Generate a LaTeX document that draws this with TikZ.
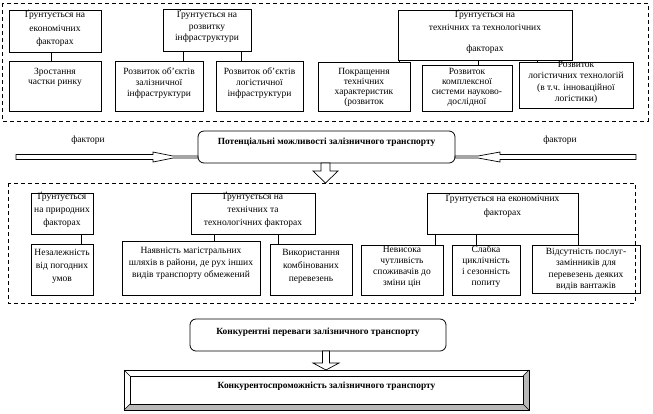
\documentclass[tikz,border=0pt]{standalone}
\usepackage{fontspec}
\setmainfont{Liberation Serif}
\usetikzlibrary{calc}
\newcommand{\lsp}[1]{\fontsize{9.5bp}{#1bp}\selectfont}
\newcommand{\frbox}[5]{\node[frame, minimum width={#4bp-#2bp}, minimum height={#5bp-#3bp}, anchor=north west] (#1) at (#2,#3) {};}
\newcommand{\rfbox}[5]{\node[rframe, minimum width={#4bp-#2bp}, minimum height={#5bp-#3bp}, anchor=north west] (#1) at (#2,#3) {};}
\begin{document}
\begin{tikzpicture}[x=1bp,y=-1bp,
  frame/.style={draw, line width=0.8bp, inner sep=0pt, outer sep=0pt},
  rframe/.style={frame, rounded corners=6bp},
  tx/.style={align=center, inner sep=0pt, outer sep=0pt},
  btx/.style={inner sep=0pt, font=\fontsize{9.4bp}{10bp}\selectfont\bfseries},
  dbox/.style={draw, line width=0.8bp, dash pattern=on 4bp off 3bp},
  barrow/.style={draw, fill=white, line width=0.7bp, line join=miter},
  conn/.style={draw, line width=0.8bp}]
\useasboundingbox (0,0) rectangle (653,413);
\fill[white] (0,0) rectangle (653,413);

% ---------- top dashed group ----------
\draw[dbox] (2,3) rectangle (648,121);

\frbox{A}{9}{10}{101}{52}
\node[tx, font=\lsp{13.5}] (At) at (55,28.5) {Ґрунтується на\\економічних\\факторах};
\frbox{B}{9}{61}{101}{111}
\node[tx, font=\lsp{10}] (Bt) at (55,77) {Зростання\\частки ринку};

\frbox{C}{163}{9}{251}{51}
\node[tx, font=\lsp{11.5}] (Ct) at (207,26.5) {Ґрунтується на\\розвитку\\інфраструктури};
\frbox{D}{115}{61}{203}{111}
\node[tx, font=\lsp{11}] (Dt) at (159,83) {Розвиток об’єктів\\залізничної\\інфраструктури};
\frbox{E}{216}{61}{303}{111}
\node[tx, font=\lsp{11}] (Et) at (259.5,83) {Розвиток об’єктів\\логістичної\\інфраструктури};

\frbox{F}{398}{10}{572}{60}
\node[tx, font=\lsp{13}] (Ft) at (485,32) {Ґрунтується на\\технічних та технологічних\\[8bp]факторах};
\frbox{G}{318}{62}{410}{111}
\node[tx, font=\lsp{10}] (Gt) at (364,87) {Покращення\\технічних\\характеристик\\(розвиток};
\frbox{H}{422}{65}{512}{111}
\node[tx, font=\lsp{10}] (Ht) at (467,87.5) {Розвиток\\комплексної\\системи науково-\\дослідної};
\frbox{I}{519}{62}{633}{108}
\node[tx, font=\lsp{11.5}] (It) at (576,82.5) {Розвиток\\логістичних технологій\\(в т.ч. інноваційної\\логістики)};

\coordinate (xa) at (51,0);
\coordinate (xc1) at (183,0);
\coordinate (xc2) at (241,0);
\coordinate (xf1) at (399,0);
\coordinate (xf2) at (478,0);
\coordinate (xf3) at (537,0);
\draw[conn] (xa |- A.south) -- (xa |- B.north);
\draw[conn] (xc1 |- C.south) -- (xc1 |- D.north);
\draw[conn] (xc2 |- C.south) -- (xc2 |- E.north);
\draw[conn] (xf1 |- F.south) -- ($(xf1 |- G.north)+(0,1)$);
\draw[conn] (xf2 |- F.south) -- (xf2 |- H.north);
\draw[conn] (xf3 |- F.south) -- ($(xf3 |- I.north)+(0,1)$);

% ---------- middle ----------
\rfbox{pot}{198}{131}{455}{163}
\node[btx] (pott) at (326.5,142) {Потенціальні можливості залізничного транспорту};
\node[tx, font=\lsp{10}] (fl) at (88,140) {фактори};
\node[tx, font=\lsp{10}] (fr) at (560,140) {фактори};
\draw[barrow] (16,154.5) -- (153,154.5) -- (153,152) -- (173,156) -- (pot.west |- 0,156) -- (pot.west |- 0,158) -- (173,158) -- (153,162) -- (153,159.5) -- (16,159.5) -- cycle;
\draw[barrow] (636,154.5) -- (500,154.5) -- (500,152) -- (478,156) -- (pot.east |- 0,156) -- (pot.east |- 0,158) -- (478,158) -- (500,162) -- (500,159.5) -- (636,159.5) -- cycle;

% ---------- middle dashed group ----------
\draw[dbox] (8,183) rectangle (635,303);
\draw[barrow] (321,163) -- (321,171) -- (313,171) -- (325.5,183) -- (338,171) -- (330,171) -- (330,163) -- cycle;

\frbox{P1}{31}{193}{93}{234}
\node[tx, font=\lsp{13}] (P1t) at (62,210) {Ґрунтується\\на природних\\факторах};
\frbox{P2}{31}{244}{93}{295}
\node[tx, font=\lsp{13}] (P2t) at (62,266) {Незалежність\\від погодних\\умов};

\frbox{T1}{191}{193}{315}{234}
\node[tx, font=\lsp{13}] (T1t) at (253,210) {Ґрунтується на\\технічних та\\технологічних факторах};
\frbox{T2}{122}{241}{260}{295}
\node[tx, font=\lsp{12}] (T2t) at (191,263) {Наявність магістральних\\шляхів в райони, де рух інших\\видів транспорту обмежений};
\frbox{T3}{270}{244}{352}{295}
\node[tx, font=\lsp{13}] (T3t) at (311,266) {Використання\\комбінованих\\перевезень};

\frbox{E1}{427}{193}{578}{234}
\node[tx, font=\lsp{14}] (E1t) at (502.5,206) {Ґрунтується на економічних\\факторах};
\frbox{E2}{361}{245}{443}{295}
\node[tx, font=\lsp{11}] (E2t) at (402,266.5) {Невисока\\чутливість\\споживачів до\\зміни цін};
\frbox{E3}{452}{245}{520}{295}
\node[tx, font=\lsp{11}] (E3t) at (486,266.5) {Слабка\\циклічність\\і сезонність\\попиту};
\frbox{E4}{532}{245}{640}{293}
\node[tx, font=\lsp{11.5}] (E4t) at (586,269.5) {Відсутність послуг-\\замінників для\\перевезень деяких\\видів вантажів};

\coordinate (xp) at (81,0);
\coordinate (xt1) at (214,0);
\coordinate (xt2) at (278,0);
\coordinate (xe1) at (435,0);
\coordinate (xe2) at (476,0);
\coordinate (xe3) at (578,0);
\draw[conn] (xp |- P1.south) -- (xp |- P2.north);
\draw[conn] (xt1 |- T1.south) -- (xt1 |- T2.north);
\draw[conn] (xt2 |- T1.south) -- (xt2 |- T3.north);
\draw[conn] (xe1 |- E1.south) -- (xe1 |- E2.north);
\draw[conn] (xe2 |- E1.south) -- (xe2 |- E3.north);
\draw[conn] (xe3 |- E1.south) -- (xe3 |- E4.north);

% ---------- bottom ----------
\rfbox{adv}{190}{319}{446}{351}
\node[btx] (advt) at (318,332) {Конкурентні переваги залізничного транспорту};

\frbox{comp}{124}{370}{529}{410}
\fill[gray!55] (529,370) -- (529,410) -- (523,404) -- (523,376) -- cycle;
\fill[gray!55] (124,410) -- (529,410) -- (523,404) -- (130,404) -- cycle;
\draw[line width=0.6bp] (130,376) rectangle (523,404);
\draw[line width=0.6bp] (124,370) -- (130,376) (529,370) -- (523,376) (124,410) -- (130,404) (529,410) -- (523,404);
\draw[line width=0.8bp] (comp.north west) rectangle (comp.south east);
\node[btx] (compt) at (326.5,386) {Конкурентоспроможність залізничного транспорту};

\draw[barrow] (adv.south -| 322.5,0) -- (322.5,363) -- (313,363) -- (326,370) -- (339,363) -- (329.5,363) -- (adv.south -| 329.5,0) -- cycle;
\end{tikzpicture}
\end{document}
